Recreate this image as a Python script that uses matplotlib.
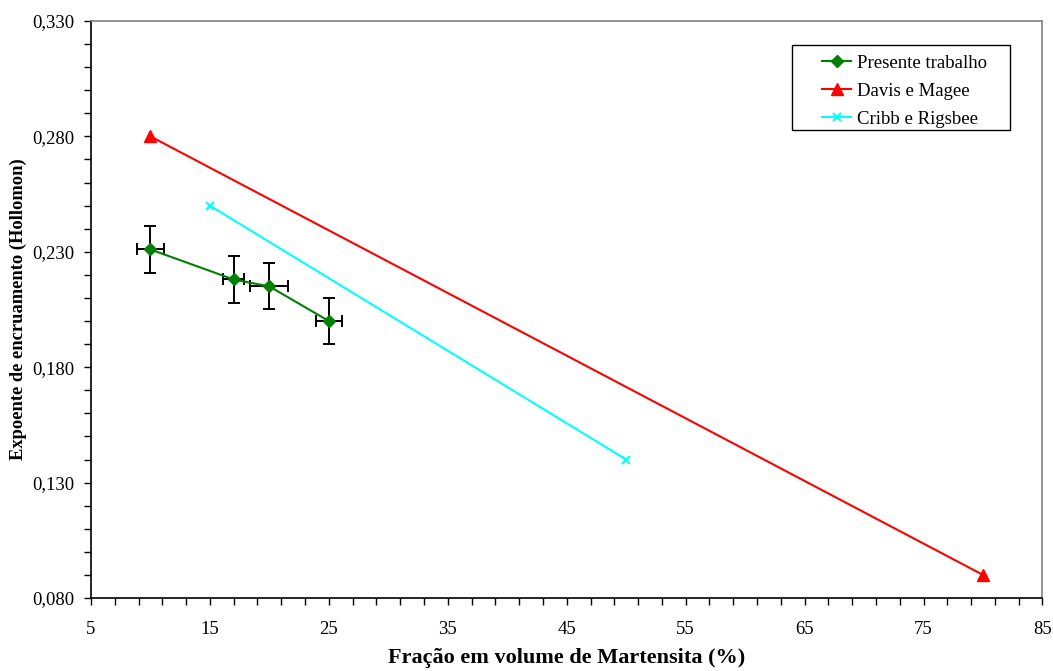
import numpy as np
import matplotlib.pyplot as plt
from matplotlib.patches import Rectangle
from matplotlib.ticker import FixedLocator, FuncFormatter

plt.rcParams['font.family'] = ['Liberation Serif', 'DejaVu Serif']

# Presente trabalho
x_pt = [10, 17, 20, 25]
y_pt = [0.231, 0.218, 0.215, 0.200]
xerr_pt = [1.1, 0.9, 1.6, 1.1]
yerr_pt = [0.010, 0.010, 0.010, 0.010]

# Davis e Magee
x_dm = [10, 80]
y_dm = [0.280, 0.090]

# Cribb e Rigsbee
x_cr = [15, 50]
y_cr = [0.250, 0.140]

fig = plt.figure(figsize=(10.53, 6.71), dpi=100)
ax = fig.add_axes([0.0864, 0.1088, 0.9036, 0.8599])

ax.errorbar(x_pt, y_pt, xerr=xerr_pt, yerr=yerr_pt, fmt='none', ecolor='black',
            elinewidth=1.4, capsize=4, capthick=1.4, zorder=2)
ax.plot(x_pt, y_pt, color='green', marker='D', markersize=6, lw=1.5,
        label='Presente trabalho', zorder=3)
ax.plot(x_dm, y_dm, color='red', marker='^', markersize=8, lw=1.5,
        label='Davis e Magee', zorder=3)
ax.plot(x_cr, y_cr, color='cyan', marker='x', markersize=6, mew=1.5, lw=1.5,
        label='Cribb e Rigsbee', zorder=3)

ax.set_xlim(5, 85)
ax.set_ylim(0.080, 0.330)
ax.xaxis.set_major_locator(FixedLocator(np.arange(5, 86, 10)))
ax.xaxis.set_minor_locator(FixedLocator(np.arange(5, 86, 2)))
ax.yaxis.set_major_locator(FixedLocator(np.linspace(0.08, 0.33, 6)))
ax.yaxis.set_minor_locator(FixedLocator(np.linspace(0.08, 0.33, 26)))
ax.yaxis.set_major_formatter(FuncFormatter(lambda v, p: ('%.3f' % v).replace('.', ',')))

ax.tick_params(which='both', direction='out', length=5, width=1, labelsize=13.5)
ax.tick_params(axis='x', pad=11.5)
ax.tick_params(axis='y', pad=7)

for s in ['left', 'bottom']:
    ax.spines[s].set_color('black')
    ax.spines[s].set_linewidth(1.2)
for s in ['top', 'right']:
    ax.spines[s].set_color('#808080')
    ax.spines[s].set_linewidth(1.2)

ax.set_xlabel('Fração em volume de Martensita (%)', fontsize=16, fontweight='bold')
ax.set_ylabel('Expoente de encruamento (Hollomon)', fontsize=13.3, fontweight='bold')
ax.xaxis.set_label_coords(0.5, -0.0864)
ax.yaxis.set_label_coords(-0.0673, 0.5)

# legend box drawn separately, like the Excel one
ax.add_patch(Rectangle((0.7367, 0.8111), 0.2291, 0.1473, transform=ax.transAxes,
                       facecolor='white', edgecolor='black', lw=1.0, zorder=4))
leg = ax.legend(loc='upper left', bbox_to_anchor=(0.7683, 0.9419), fontsize=13.5,
                frameon=False, borderpad=0, borderaxespad=0,
                handlelength=1.55, handletextpad=0.32, labelspacing=0.58)
leg.set_zorder(5)

fig.savefig('out.png', dpi=100)
